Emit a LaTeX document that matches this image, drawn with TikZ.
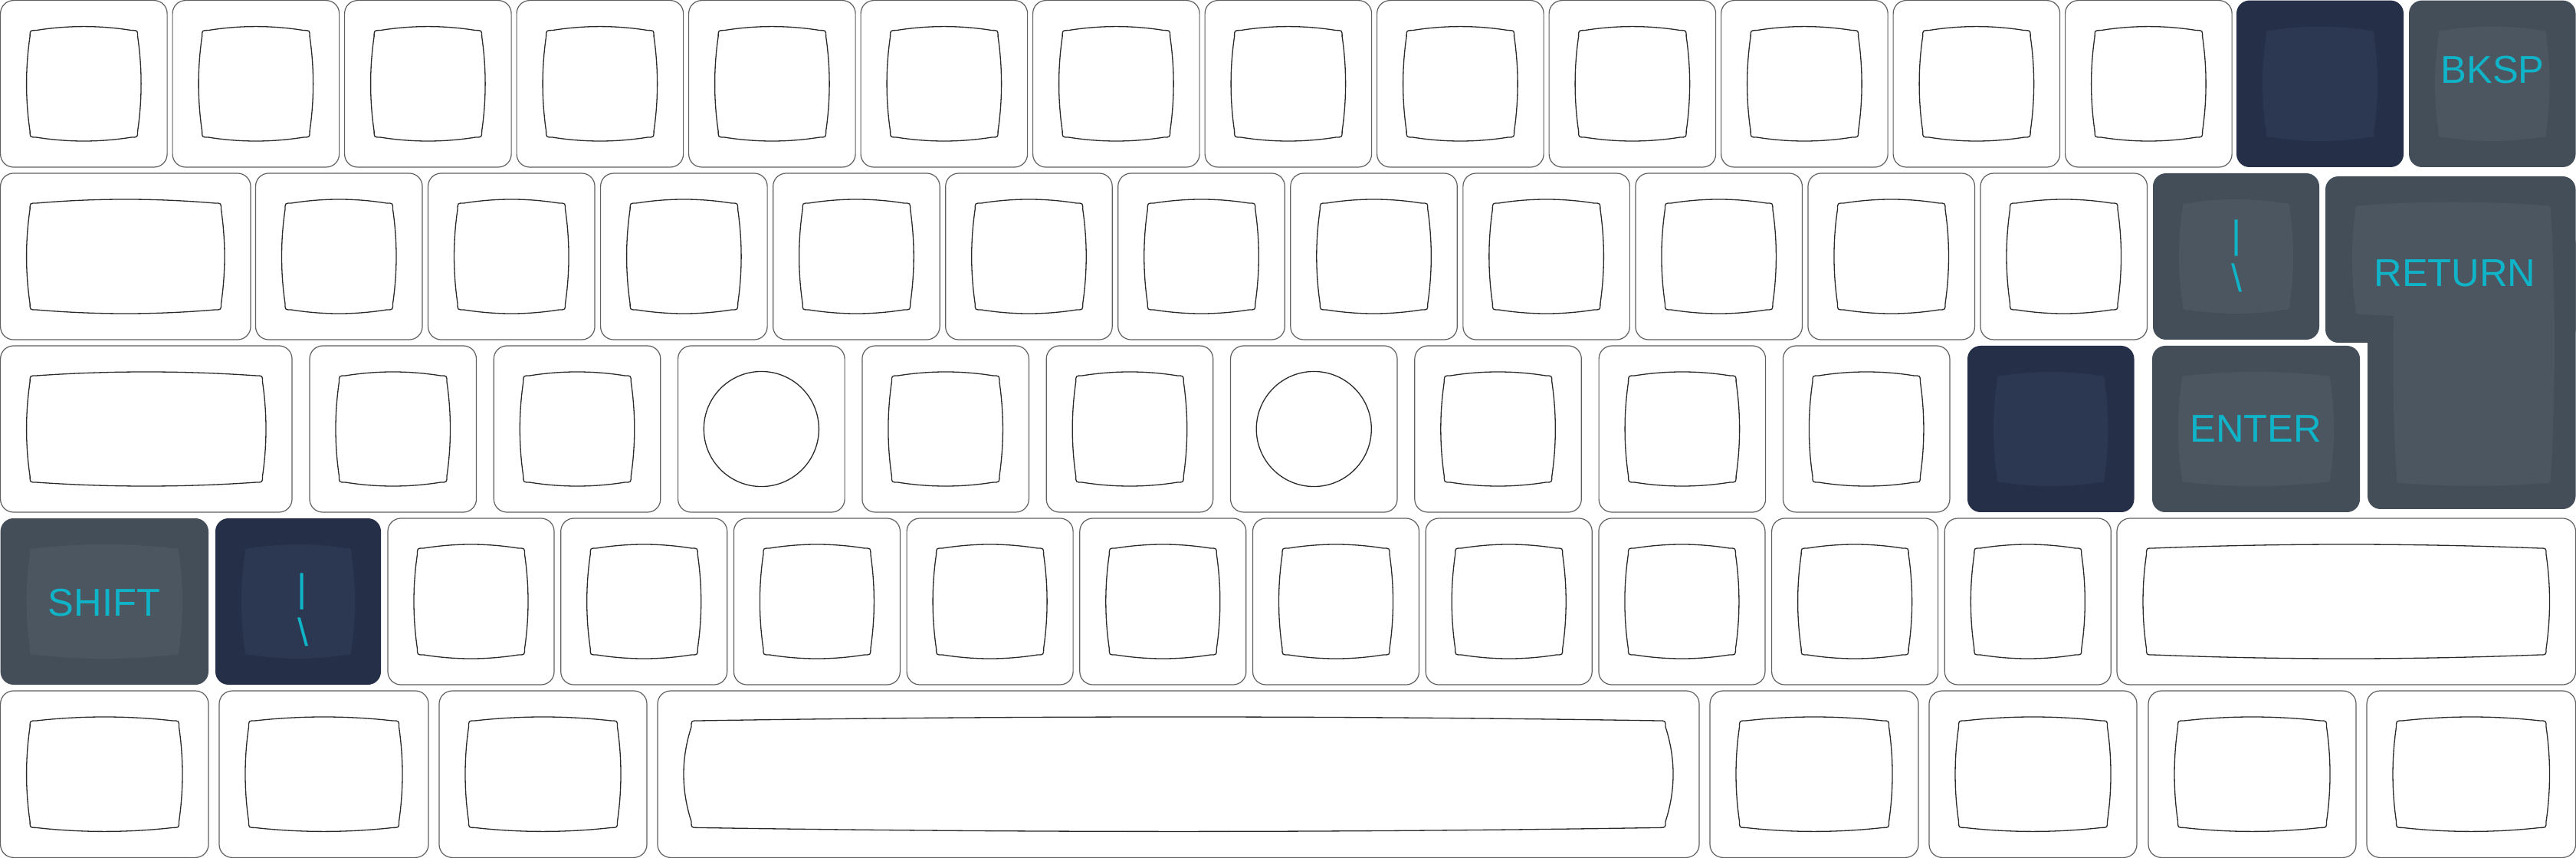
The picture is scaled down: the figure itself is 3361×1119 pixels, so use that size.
\documentclass[tikz,border=0pt]{standalone}
\usepackage{fontspec}
\setmainfont{Liberation Sans}
\definecolor{navyout}{HTML}{262F48}
\definecolor{navyin}{HTML}{2C3751}
\definecolor{grayout}{HTML}{444E58}
\definecolor{grayin}{HTML}{4C5661}
\definecolor{legendc}{HTML}{10B4C8}
\definecolor{keyedge}{HTML}{606060}
\definecolor{pillowedge}{HTML}{2A2A2A}
\tikzset{
  keycap/.style={draw=keyedge, fill=white, line width=0.012cm, rounded corners=0.17cm},
  topline/.style={draw=pillowedge, line width=0.013cm},
  legendtext/.style={text=legendc, font=\fontsize{14.4}{17}\selectfont, inner sep=0pt, anchor=base},
}
% #1 options, #2 L, #3 T, #4 R, #5 B, #6 side bulge
\newcommand\kpillow[6]{%
  \pgfmathsetmacro\kpL{#2+34+#6}%
  \pgfmathsetmacro\kpR{#4-34-#6}%
  \pgfmathsetmacro\kpT{#3+39}%
  \pgfmathsetmacro\kpB{#5-39}%
  \pgfmathsetmacro\kpW{(\kpR-\kpL-16)/3}%
  \pgfmathsetmacro\kpH{(\kpB-\kpT-16)/3}%
  \pgfmathsetmacro\kpS{#6*4/3}%
  \path[#1] (\kpL+8,\kpT) .. controls (\kpL+8+\kpW,\kpT-6.67) and (\kpR-8-\kpW,\kpT-6.67) .. (\kpR-8,\kpT)
    .. controls (\kpR,\kpT) .. (\kpR,\kpT+8)
    .. controls (\kpR+\kpS,\kpT+8+\kpH) and (\kpR+\kpS,\kpB-8-\kpH) .. (\kpR,\kpB-8)
    .. controls (\kpR,\kpB) .. (\kpR-8,\kpB)
    .. controls (\kpR-8-\kpW,\kpB+6.67) and (\kpL+8+\kpW,\kpB+6.67) .. (\kpL+8,\kpB)
    .. controls (\kpL,\kpB) .. (\kpL,\kpB-8)
    .. controls (\kpL-\kpS,\kpB-8-\kpH) and (\kpL-\kpS,\kpT+8+\kpH) .. (\kpL,\kpT+8)
    .. controls (\kpL,\kpT) .. (\kpL+8,\kpT) -- cycle;%
}
\newcommand\wkey[5]{%
  \draw[keycap] (#1,#2) rectangle (#3,#4);
  \kpillow{topline}{#1}{#2}{#3}{#4}{#5}}
\newcommand\nkey[5]{%
  \fill[navyout, rounded corners=0.17cm] (#1,#2) rectangle (#3,#4);
  \kpillow{fill=navyin}{#1}{#2}{#3}{#4}{#5}}
\newcommand\gkey[5]{%
  \fill[grayout, rounded corners=0.17cm] (#1,#2) rectangle (#3,#4);
  \kpillow{fill=grayin}{#1}{#2}{#3}{#4}{#5}}
\newcommand\ckey[4]{%
  \draw[keycap] (#1,#2) rectangle (#3,#4);
  \draw[topline] ({(#1+#3)/2},{(#2+#4)/2}) circle[radius=0.75cm];}
\begin{document}
\begin{tikzpicture}[x=0.01cm, y=-0.01cm]
\useasboundingbox (0,0) rectangle (3361,1119);
\fill[white] (0,0) rectangle (3361,1119);
% ---------- row 1 ----------
\foreach \i in {0,...,12}{
  \pgfmathsetmacro\xL{0.6+224.5*\i}
  \wkey{\xL}{0.6}{\xL+217.5}{218}{4.5}
}
\nkey{2918}{0.6}{3136}{218}{4.5}
\gkey{3143}{0.6}{3360.5}{218}{4.5}
% ---------- row 2 ----------
\wkey{0.6}{226}{327}{443}{4.5}
\foreach \i in {0,...,10}{
  \pgfmathsetmacro\xL{333.5+225.05*\i}
  \wkey{\xL}{226}{\xL+217.5}{443}{4.5}
}
\gkey{2809}{226}{3026}{443}{4.5}
% ISO return
\fill[grayout, rounded corners=0.17cm] (3034,230) rectangle (3360.5,447);
\fill[grayout, rounded corners=0.17cm] (3089,300) rectangle (3360.5,664);
\fill[grayin] (3081,268) .. controls (3161,262) and (3240,262) .. (3320,268)
  .. controls (3328,268) .. (3328,276)
  .. controls (3334.5,391) and (3334.5,507) .. (3328,622)
  .. controls (3328,630) .. (3320,630)
  .. controls (3258,635) and (3197,635) .. (3135,630)
  .. controls (3127,630) .. (3127,622)
  .. controls (3122,550) and (3122,470) .. (3123,412)
  -- (3083,410) .. controls (3073,410) .. (3073,400)
  .. controls (3067.5,360) and (3067.5,316) .. (3073,276)
  .. controls (3073,268) .. (3081,268) -- cycle;
% ---------- row 3 ----------
\wkey{0.6}{451}{381}{668}{4.5}
\foreach \i in {0,1,3,4,6,7,8}{
  \pgfmathsetmacro\xL{404+240.3*\i}
  \wkey{\xL}{451}{\xL+217.5}{668}{4.5}
}
\ckey{884.6}{451}{1102.1}{668}
\ckey{1605.5}{451}{1823}{668}
\nkey{2567}{451}{2784.5}{668}{4.5}
\gkey{2808}{451}{3079}{668}{4.5}
% ---------- row 4 ----------
\gkey{0.6}{676}{272}{893}{4.5}
\nkey{281}{676}{497}{893}{4.5}
\foreach \i in {0,...,9}{
  \pgfmathsetmacro\xL{506+225.7*\i}
  \wkey{\xL}{676}{\xL+217}{893}{4.5}
}
\wkey{2762}{676}{3360.5}{893}{4.5}
% ---------- row 5 ----------
\wkey{0.6}{901}{272}{1118.4}{4.5}
\wkey{286}{901}{559}{1118.4}{4.5}
\wkey{573}{901}{844}{1118.4}{4.5}
\wkey{858}{901}{2217}{1118.4}{10}
\wkey{2231}{901}{2503}{1118.4}{4.5}
\wkey{2517}{901}{2788}{1118.4}{4.5}
\wkey{2803}{901}{3074}{1118.4}{4.5}
\wkey{3088}{901}{3360.5}{1118.4}{4.5}
% ---------- legends ----------
\node[legendtext] (bksp) at (3252,109) {BKSP};
\node[legendtext] (return) at (3203,374) {RETURN};
\node[legendtext] (enter) at (2943,577) {ENTER};
\node[legendtext] (shift) at (136,803) {SHIFT};
\node[legendtext] (pipeA) at (2918,323.5) {|};
\node[legendtext] (bslashA) at (2918,381) {\textbackslash};
\node[legendtext] (pipeB) at (394.5,784.5) {|};
\node[legendtext] (bslashB) at (395.5,842) {\textbackslash};
\end{tikzpicture}
\end{document}
